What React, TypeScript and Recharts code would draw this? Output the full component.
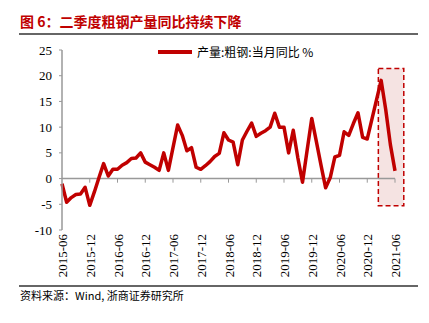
import {
  LineChart,
  Line,
  XAxis,
  YAxis,
  ReferenceLine,
  ReferenceArea,
} from 'recharts';

// monthly categories, 2015-06 .. 2021-06
const startYear = 2015;
const startMonth = 6;
const monthCount = 73;
const months: string[] = Array.from({ length: monthCount }, (_, k) => {
  const m = startMonth - 1 + k;
  const y = startYear + Math.floor(m / 12);
  return `${y}-${String((m % 12) + 1).padStart(2, '0')}`;
});

// 产量:粗钢:当月同比 (%)
const steelYoy = [
  -1.0, -4.6, -3.7, -3.1, -3.0, -1.7, -5.2, -2.6, 0.2, 2.9, 0.5, 1.8,
  1.8, 2.6, 3.1, 3.9, 4.0, 5.0, 3.2, 2.7, 2.2, 1.6, 5.0, 1.6,
  6.0, 10.4, 8.4, 5.4, 6.0, 2.2, 1.8, 2.5, 3.3, 4.3, 4.9, 8.9,
  7.5, 7.1, 2.7, 7.5, 9.2, 10.8, 8.2, 8.8, 9.3, 10.0, 12.7, 10.0,
  10.0, 5.0, 9.4, 4.0, -0.7, 5.5, 11.7, 7.2, 2.6, -1.8, 0.2, 4.2,
  4.5, 9.1, 8.4, 10.7, 12.8, 8.0, 7.7, 11.5, 15.3, 19.1, 13.4, 6.6,
  1.5,
];

const tickLabels = [
  '2015-06', '2015-12', '2016-06', '2016-12', '2017-06', '2017-12', '2018-06',
  '2018-12', '2019-06', '2019-12', '2020-06', '2020-12', '2021-06',
];
const yTicks = [-10, -5, 0, 5, 10, 15, 20, 25];

// highlighted box (data units)
const boxX = [68.4, 73.9];
const boxY = [-5.3, 21.4];

const RED = '#C00000';
const AXIS = '#999999';

const data = months.map((m, i) => ({ i, month: m, value: steelYoy[i] }));
const tickIdx = tickLabels.map(l => months.indexOf(l));

function MonthTick(props: any) {
  const { x, y, payload } = props;
  const tx = x + 5;
  const ty = y + 2;
  return (
    <text
      x={tx}
      y={ty}
      transform={`rotate(-90, ${tx}, ${ty})`}
      textAnchor="end"
      fontSize={13}
      fontFamily="'Liberation Serif', serif"
      fill="#000"
    >
      {months[payload.value]}
    </text>
  );
}

export default function App() {
  return (
    <div
      style={{
        position: 'absolute',
        left: 0,
        top: 0,
        width: 429,
        height: 323,
        background: '#fff',
        fontFamily: "'Noto Sans CJK SC', sans-serif",
      }}
    >
      <div
        style={{
          position: 'absolute',
          left: 20,
          top: 12,
          fontSize: 14,
          fontWeight: 700,
          color: RED,
          whiteSpace: 'pre',
          lineHeight: '18px',
        }}
      >
        图 6：二季度粗钢产量同比持续下降
      </div>
      <div style={{ position: 'absolute', left: 19, top: 33, width: 399, height: 2, background: '#666' }} />

      {/* legend */}
      <div
        style={{
          position: 'absolute',
          left: 158,
          top: 44,
          display: 'flex',
          alignItems: 'center',
          fontSize: 12,
          lineHeight: '16px',
          color: '#000',
          whiteSpace: 'nowrap',
        }}
      >
        <div style={{ width: 34, height: 4, background: RED, marginRight: 5 }} />
        <span>产量:粗钢:当月同比 %</span>
      </div>

      <div style={{ position: 'absolute', left: 0, top: 0 }}>
        <LineChart
          width={429}
          height={323}
          data={data}
          margin={{ top: 50, right: 34, left: 20, bottom: 33 }}
        >
          <XAxis
            type="number"
            dataKey="i"
            domain={[0, monthCount - 1]}
            ticks={tickIdx}
            interval={0}
            axisLine={false}
            tickLine={false}
            tickSize={0}
            height={60}
            tick={<MonthTick />}
          />
          <YAxis
            domain={[-10, 25]}
            ticks={yTicks}
            interval={0}
            width={42}
            axisLine={{ stroke: AXIS, strokeWidth: 1.5 }}
            tickLine={{ stroke: AXIS }}
            tickSize={3}
            tickMargin={7}
            tick={{ fontSize: 13, fill: '#000', fontFamily: "'Liberation Serif', serif" }}
          />
          <ReferenceArea
            x1={boxX[0]}
            x2={boxX[1]}
            y1={boxY[0]}
            y2={boxY[1]}
            ifOverflow="visible"
            fill="#F2DCDB"
            fillOpacity={0.8}
            stroke={RED}
            strokeWidth={1.5}
            strokeDasharray="5 3"
          />
          <ReferenceLine y={0} stroke={AXIS} strokeWidth={1.5} />
          {tickIdx.slice(1).map(t => (
            <ReferenceLine
              key={t}
              segment={[{ x: t, y: 0 }, { x: t, y: -0.8 }]}
              stroke={AXIS}
              strokeWidth={1}
            />
          ))}
          <Line
            type="linear"
            dataKey="value"
            stroke={RED}
            strokeWidth={3.5}
            strokeLinejoin="round"
            dot={false}
            isAnimationActive={false}
          />
        </LineChart>
      </div>

      <div style={{ position: 'absolute', left: 19, top: 285, width: 399, height: 2, background: '#666' }} />
      <div
        style={{
          position: 'absolute',
          left: 20,
          top: 288,
          fontSize: 11,
          lineHeight: '14px',
          color: '#000',
          whiteSpace: 'nowrap',
        }}
      >
        资料来源：Wind, 浙商证券研究所
      </div>
    </div>
  );
}
